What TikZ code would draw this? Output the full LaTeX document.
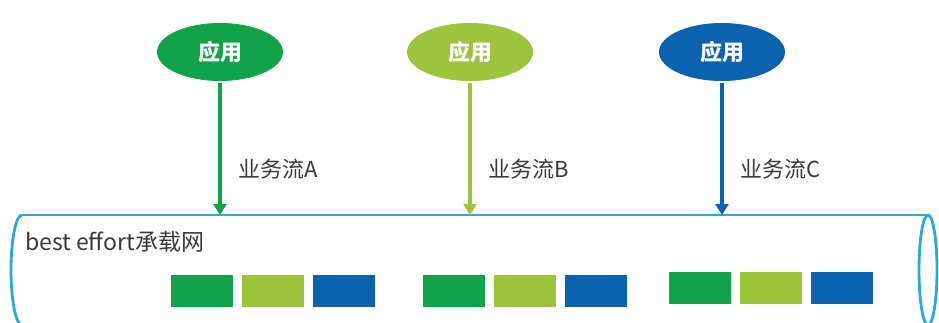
\documentclass[tikz,border=0pt]{standalone}
\usepackage{fontspec}
\setmainfont{Noto Sans CJK SC}
\usetikzlibrary{positioning,arrows.meta,shapes.geometric}
\definecolor{appgreen}{HTML}{11A34A}
\definecolor{applime}{HTML}{9CC53C}
\definecolor{appblue}{HTML}{0B62AE}
\definecolor{pipeblue}{HTML}{2AA8E0}
\definecolor{txtgray}{HTML}{3A3A3A}

\begin{document}
\begin{tikzpicture}[x=1pt,y=-1pt,node distance=250pt,on grid,
  app/.style={ellipse,minimum width=126pt,minimum height=58pt,inner sep=0pt,
    text=white,font=\fontsize{22}{26}\selectfont\bfseries},
  flow/.style={-{Triangle[length=11pt,width=13pt]},line width=3.2pt,shorten <=2pt},
  flowlbl/.style={font=\fontsize{22}{26}\selectfont,text=txtgray,anchor=west},
  pipe/.style={draw=pipeblue,line width=2.8pt},
  blk/.style={minimum width=62pt,minimum height=32pt,inner sep=0pt,anchor=north west}]
\useasboundingbox (0,0) rectangle (939,323);
% applications
\node[app,fill=appgreen] (appA) at (220,52) {应用};
\node[app,fill=applime] (appB) [right=of appA] {应用};
\node[app,fill=appblue] (appC) [right=252pt of appB] {应用};
% carrier network pipe
\coordinate (pipeL) at (22,215);
\coordinate (pipeR) at (928,215);
\coordinate (pipeRc) at (928,270);
\draw[pipe] (pipeL) -- (pipeR);
\draw[pipe] (pipeL) arc[start angle=90,end angle=270,x radius=11pt,y radius=55pt];
\draw[pipe] (pipeRc) ellipse[x radius=9pt,y radius=55pt];
\node[font=\fontsize{23}{26}\selectfont,text=txtgray,anchor=west,inner sep=0pt] (netlbl) at (25,242) {best effort承载网};
% flows
\draw[flow,appgreen] (appA.south) -- (appA.south |- pipeL) node[flowlbl,pos=0.66,xshift=14pt] {业务流A};
\draw[flow,applime] (appB.south) -- (appB.south |- pipeL) node[flowlbl,pos=0.66,xshift=14pt] {业务流B};
\draw[flow,appblue] (appC.south) -- (appC.south |- pipeL) node[flowlbl,pos=0.66,xshift=14pt] {业务流C};
% packets
\foreach \g/\gx/\gy in {1/171/275,2/423/275,3/669/272}{
  \foreach \c [count=\i] in {appgreen,applime,appblue}{
    \node[blk,fill=\c] (blk\g\i) at ({\gx+(\i-1)*71},\gy) {};
  }
}
\end{tikzpicture}
\end{document}
